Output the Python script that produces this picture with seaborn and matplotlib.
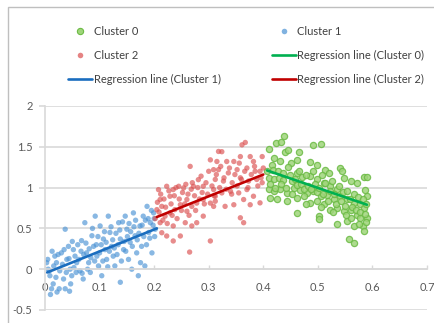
import matplotlib
matplotlib.use("Agg")
import matplotlib.pyplot as plt
import matplotlib.patches as mpatches
from matplotlib.lines import Line2D
import pandas as pd
import seaborn as sns

sns.set_theme(style="white")
plt.rcParams["font.family"] = ["Lato", "DejaVu Sans"]

# %%
# Points (x, y)
cluster0_pts = [
    (0.411, 1.47), (0.423, 1.545), (0.433, 1.56), (0.438, 1.63), (0.440, 1.44),
    (0.446, 1.455), (0.465, 1.435), (0.419, 1.36), (0.431, 1.32), (0.416, 1.28),
    (0.450, 1.30), (0.462, 1.34), (0.492, 1.52), (0.505, 1.53), (0.486, 1.31),
    (0.499, 1.28), (0.514, 1.22), (0.520, 1.18), (0.541, 1.24), (0.544, 1.20),
    (0.410, 1.12), (0.419, 1.10), (0.428, 1.12), (0.437, 1.09), (0.453, 1.08),
    (0.462, 1.18), (0.471, 1.13), (0.486, 1.14), (0.499, 1.10), (0.511, 1.06),
    (0.523, 1.02), (0.535, 0.98), (0.547, 1.12), (0.560, 1.08), (0.572, 1.06),
    (0.584, 1.13), (0.590, 1.13), (0.410, 0.98), (0.419, 0.955), (0.431, 0.98),
    (0.443, 0.935), (0.456, 0.995), (0.468, 0.975), (0.480, 0.935), (0.492, 0.955),
    (0.505, 0.895), (0.517, 0.915), (0.529, 0.855), (0.541, 0.895), (0.554, 0.855),
    (0.566, 0.815), (0.578, 0.795), (0.587, 0.975), (0.590, 0.895), (0.413, 0.875),
    (0.425, 0.855), (0.443, 0.835), (0.462, 0.875), (0.474, 0.895), (0.486, 0.815),
    (0.499, 0.835), (0.511, 0.795), (0.523, 0.73), (0.535, 0.75), (0.547, 0.71),
    (0.560, 0.73), (0.572, 0.67), (0.584, 0.75), (0.590, 0.63), (0.462, 0.69),
    (0.502, 0.65), (0.502, 0.61), (0.535, 0.55), (0.554, 0.59), (0.560, 0.63),
    (0.566, 0.53), (0.578, 0.63), (0.583, 0.53), (0.584, 0.47), (0.557, 0.365),
    (0.567, 0.325), (0.407, 1.20), (0.412, 1.05), (0.418, 1.22), (0.422, 1.00),
    (0.427, 1.20), (0.432, 1.05), (0.436, 1.18), (0.441, 1.00), (0.445, 1.25),
    (0.449, 1.15), (0.452, 0.92), (0.458, 1.10), (0.461, 1.03), (0.466, 1.20),
    (0.470, 1.05), (0.474, 0.98), (0.478, 1.16), (0.482, 1.02), (0.488, 0.98),
    (0.491, 1.20), (0.495, 1.04), (0.498, 0.95), (0.503, 1.00), (0.507, 1.16),
    (0.510, 0.92), (0.514, 1.06), (0.518, 0.84), (0.522, 0.96), (0.526, 1.08),
    (0.530, 0.92), (0.534, 0.80), (0.538, 1.02), (0.542, 0.84), (0.546, 0.94),
    (0.550, 0.78), (0.554, 0.96), (0.558, 0.86), (0.562, 0.76), (0.566, 0.92),
    (0.570, 0.72), (0.574, 0.88), (0.578, 0.70), (0.582, 0.86), (0.586, 0.68),
    (0.589, 0.80), (0.576, 0.56), (0.588, 0.58), (0.552, 0.66), (0.528, 0.70),
    (0.505, 0.76), (0.478, 0.80),
]

cluster1_pts = [
    (0.003, 0.08), (0.006, 0.00), (0.009, -0.08), (0.012, -0.24), (0.010, -0.31),
    (0.015, -0.18), (0.018, 0.16), (0.021, 0.08), (0.027, -0.02), (0.030, 0.20),
    (0.034, -0.12), (0.037, -0.24), (0.040, 0.12), (0.043, 0.28), (0.046, 0.00),
    (0.049, -0.08), (0.037, 0.49), (0.052, 0.24), (0.055, 0.16), (0.058, 0.08),
    (0.064, -0.02), (0.067, 0.35), (0.070, -0.12), (0.073, 0.57), (0.076, 0.20),
    (0.080, 0.08), (0.083, -0.04), (0.086, 0.41), (0.089, 0.28), (0.092, 0.65),
    (0.095, 0.16), (0.098, 0.04), (0.101, 0.53), (0.104, -0.08), (0.107, 0.37),
    (0.110, 0.24), (0.113, 0.12), (0.116, 0.65), (0.119, 0.45), (0.122, 0.28),
    (0.125, 0.16), (0.128, 0.04), (0.135, 0.57), (0.138, 0.37), (0.138, -0.16),
    (0.144, 0.24), (0.147, 0.65), (0.150, 0.49), (0.153, 0.12), (0.156, 0.33),
    (0.159, 0.00), (0.162, 0.69), (0.165, 0.41), (0.168, 0.20), (0.171, -0.08),
    (0.174, 0.53), (0.177, 0.28), (0.180, 0.65), (0.183, 0.04), (0.187, 0.77),
    (0.190, 0.45), (0.193, 0.57), (0.196, 0.20), (0.199, 0.69), (0.202, 0.49),
    (0.005, 0.12), (0.008, -0.02), (0.013, 0.22), (0.016, 0.04), (0.020, -0.10),
    (0.024, 0.18), (0.026, -0.24), (0.032, 0.06), (0.035, 0.24), (0.039, -0.04),
    (0.044, 0.13), (0.047, -0.18), (0.050, 0.34), (0.053, 0.02), (0.057, -0.04),
    (0.060, 0.30), (0.062, 0.12), (0.066, 0.22), (0.068, -0.05), (0.071, 0.18),
    (0.075, 0.32), (0.078, 0.00), (0.081, 0.25), (0.084, 0.14), (0.087, 0.50),
    (0.091, 0.10), (0.094, 0.30), (0.097, 0.40), (0.100, 0.20), (0.103, 0.30),
    (0.106, 0.10), (0.109, 0.46), (0.112, 0.33), (0.115, 0.03), (0.118, 0.22),
    (0.121, 0.52), (0.124, 0.36), (0.127, 0.26), (0.130, 0.44), (0.132, 0.18),
    (0.134, 0.30), (0.137, 0.48), (0.140, 0.10), (0.142, 0.58), (0.145, 0.34),
    (0.148, 0.22), (0.151, 0.40), (0.154, 0.56), (0.157, 0.46), (0.160, 0.28),
    (0.163, 0.52), (0.166, 0.60), (0.169, 0.36), (0.172, 0.44), (0.175, 0.08),
    (0.178, 0.54), (0.181, 0.40), (0.184, 0.60), (0.186, 0.30), (0.189, 0.62),
    (0.192, 0.38), (0.195, 0.72), (0.198, 0.54), (0.200, 0.62), (0.201, 0.40),
    (0.022, -0.28), (0.045, -0.27),
]

cluster2_pts = [
    (0.208, 0.975), (0.211, 0.854), (0.214, 0.77), (0.223, 1.016), (0.229, 0.894),
    (0.235, 0.976), (0.245, 1.016), (0.254, 0.996), (0.260, 0.854), (0.266, 1.26),
    (0.272, 1.016), (0.281, 1.097), (0.290, 1.016), (0.303, 1.34), (0.309, 1.22),
    (0.315, 1.32), (0.318, 1.443), (0.211, 0.57), (0.220, 0.65), (0.229, 0.69),
    (0.238, 0.73), (0.248, 0.79), (0.260, 0.71), (0.269, 0.77), (0.278, 0.81),
    (0.290, 0.854), (0.303, 0.81), (0.312, 0.894), (0.214, 0.447), (0.223, 0.407),
    (0.235, 0.346), (0.248, 0.407), (0.257, 0.57), (0.269, 0.53), (0.278, 0.57),
    (0.290, 0.65), (0.265, 0.21), (0.303, 0.346), (0.235, 0.53), (0.205, 0.73),
    (0.324, 1.44), (0.333, 1.32), (0.346, 1.32), (0.361, 1.524), (0.367, 1.553),
    (0.358, 1.38), (0.376, 1.38), (0.382, 1.32), (0.398, 1.38), (0.318, 1.22),
    (0.336, 1.18), (0.352, 1.22), (0.370, 1.24), (0.385, 1.20), (0.394, 1.20),
    (0.312, 1.10), (0.327, 1.08), (0.343, 1.06), (0.358, 1.12), (0.373, 1.08),
    (0.388, 1.10), (0.398, 1.06), (0.309, 0.976), (0.324, 0.935), (0.340, 0.955),
    (0.355, 0.935), (0.370, 0.976), (0.382, 0.894), (0.394, 0.813), (0.312, 0.833),
    (0.330, 0.77), (0.346, 0.79), (0.364, 0.854), (0.376, 0.79), (0.358, 0.63),
    (0.364, 0.57), (0.309, 0.77), (0.202, 0.62), (0.206, 0.82), (0.209, 0.70),
    (0.212, 0.92), (0.216, 0.60), (0.218, 0.86), (0.221, 0.76), (0.224, 0.56),
    (0.227, 0.96), (0.231, 0.80), (0.233, 0.66), (0.237, 0.90), (0.240, 1.00),
    (0.242, 0.62), (0.246, 0.86), (0.250, 0.72), (0.252, 0.94), (0.256, 0.80),
    (0.258, 1.04), (0.262, 0.92), (0.264, 0.66), (0.268, 0.98), (0.270, 1.06),
    (0.274, 0.90), (0.276, 0.72), (0.280, 1.00), (0.283, 0.86), (0.286, 1.14),
    (0.288, 0.94), (0.292, 0.80), (0.295, 1.06), (0.298, 0.92), (0.300, 1.20),
    (0.306, 1.02), (0.310, 0.90), (0.314, 1.16), (0.320, 1.00), (0.322, 1.26),
    (0.328, 1.12), (0.332, 0.98), (0.338, 1.24), (0.342, 0.92), (0.348, 1.16),
    (0.352, 1.02), (0.356, 1.30), (0.360, 1.10), (0.366, 1.20), (0.372, 1.00),
    (0.378, 1.16), (0.384, 1.26), (0.390, 1.02), (0.396, 1.12), (0.400, 1.24),
]

# Regression line ends (x, y) per cluster
reg0_x = [0.407, 0.590]
reg0_y = [1.21, 0.79]
reg1_x = [0.004, 0.205]
reg1_y = [-0.04, 0.50]
reg2_x = [0.205, 0.400]
reg2_y = [0.64, 1.16]

x_ticks = [0, 0.1, 0.2, 0.3, 0.4, 0.5, 0.6, 0.7]
y_ticks = [-0.5, 0, 0.5, 1, 1.5, 2]

# %%
df0 = pd.DataFrame(cluster0_pts, columns=["x", "y"])
df1 = pd.DataFrame(cluster1_pts, columns=["x", "y"])
df2 = pd.DataFrame(cluster2_pts, columns=["x", "y"])

fig = plt.figure(figsize=(4.35, 3.23), dpi=100)
ax = fig.add_axes([45 / 435, 1 - 310 / 323, 382 / 435, 204 / 323])

grid_col = "#D9D9D9"
txt_col = "#595959"

for yv in y_ticks:
    ax.axhline(yv, color=grid_col, lw=1.2, zorder=0)

c0_face, c0_edge = "#9FD57A", "#6CBB45"
c1_col = "#4A92D4"
c2_col = "#DB4F4F"

sns.scatterplot(data=df0, x="x", y="y", ax=ax, s=20, color=c0_face,
                edgecolor=c0_edge, linewidth=0.9, alpha=0.85, zorder=2)
sns.scatterplot(data=df1, x="x", y="y", ax=ax, s=15, color=c1_col,
                edgecolor="none", alpha=0.65, zorder=2)
sns.scatterplot(data=df2, x="x", y="y", ax=ax, s=15, color=c2_col,
                edgecolor="none", alpha=0.65, zorder=2)

l0_col, l1_col, l2_col = "#00B050", "#1A6DBF", "#C00000"
sns.lineplot(x=reg0_x, y=reg0_y, ax=ax, color=l0_col, lw=1.9, zorder=3)
sns.lineplot(x=reg1_x, y=reg1_y, ax=ax, color=l1_col, lw=1.9, zorder=3)
sns.lineplot(x=reg2_x, y=reg2_y, ax=ax, color=l2_col, lw=1.9, zorder=3)

ax.set_xlim(0, 0.7)
ax.set_ylim(-0.5, 2)
ax.set_xticks(x_ticks)
ax.set_xticklabels([f"{v:g}" for v in x_ticks])
ax.set_yticks(y_ticks)
ax.set_yticklabels([f"{v:g}" for v in y_ticks])
ax.set_xlabel("")
ax.set_ylabel("")

for s in ["top", "right"]:
    ax.spines[s].set_visible(False)
ax.spines["bottom"].set_position(("data", 0))
ax.spines["bottom"].set_color(grid_col)
ax.spines["bottom"].set_linewidth(1.2)
ax.spines["left"].set_color(grid_col)
ax.spines["left"].set_linewidth(1.2)

ax.tick_params(axis="x", direction="in", length=3, width=1, color=grid_col,
               pad=9, labelsize=8, labelcolor=txt_col, bottom=True)
ax.tick_params(axis="y", direction="out", length=4, width=1.2, color=grid_col,
               pad=5, labelsize=8, labelcolor=txt_col, left=True)
ax.set_facecolor("white")
ax.patch.set_alpha(0)

# %%
# legend, filled row by row like the original
h_c0 = Line2D([], [], ls="none", marker="o", ms=4.5, mfc=c0_face, mec=c0_edge, mew=0.8)
h_c1 = Line2D([], [], ls="none", marker="o", ms=4, mfc=c1_col, mec="none", alpha=0.7)
h_c2 = Line2D([], [], ls="none", marker="o", ms=4, mfc=c2_col, mec="none", alpha=0.7)
h_r0 = Line2D([], [], color=l0_col, lw=1.9)
h_r1 = Line2D([], [], color=l1_col, lw=1.9)
h_r2 = Line2D([], [], color=l2_col, lw=1.9)

handles = [h_c0, h_c2, h_r1, h_c1, h_r0, h_r2]
labels = ["Cluster 0", "Cluster 2", "Regression line (Cluster 1)",
          "Cluster 1", "Regression line (Cluster 0)", "Regression line (Cluster 2)"]
leg = fig.legend(handles, labels, ncol=2, loc="upper left",
                 bbox_to_anchor=(68 / 435, 1 - 26 / 323), frameon=False,
                 fontsize=8, handlelength=2.2, handletextpad=0.1,
                 columnspacing=4.6, labelspacing=1.15, borderpad=0,
                 borderaxespad=0)
for t in leg.get_texts():
    t.set_color("#404040")

# outer chart frame
fig.patches.append(mpatches.Rectangle((8 / 435, -0.1), 1.2, 1.1 - 7 / 323,
                                      transform=fig.transFigure, fill=False,
                                      edgecolor="#BFBFBF", lw=1))

fig.savefig("out.png", dpi=100)
